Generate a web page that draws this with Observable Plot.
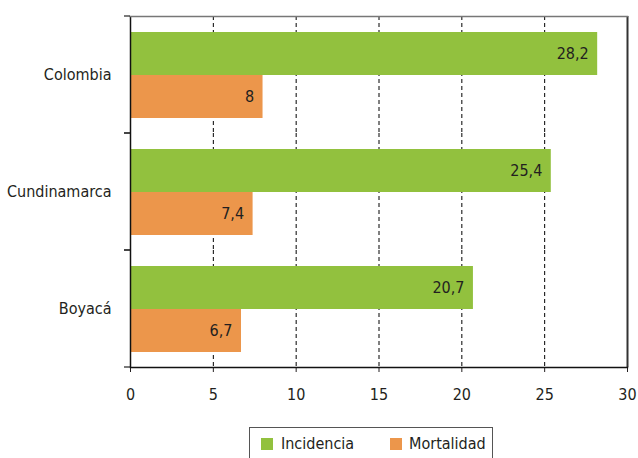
<!DOCTYPE html>
<html>
<head>
<meta charset="utf-8">
<script src="https://cdn.jsdelivr.net/npm/d3@7"></script>
<script src="https://cdn.jsdelivr.net/npm/@observablehq/plot@0.6"></script>
<style>
  body { margin: 0; background: #fff; font-family: "DejaVu Sans Condensed", "Liberation Sans", sans-serif; color: #231f20; }
  #chart { position: absolute; left: 0; top: 0; }
  #legend { position: absolute; left: 249px; top: 427px; width: 244px; height: 36px; border: 1px solid #555; box-sizing: border-box; font-size: 16px; }
  .sw { position: absolute; top: 10px; width: 12px; height: 12px; }
  .lb { position: absolute; top: 6px; line-height: 20px; }
</style>
</head>
<body>
<div id="chart"></div>
<div id="legend">
  <span class="sw" style="left:11px;background:#92c13e"></span><span class="lb" style="left:31px">Incidencia</span>
  <span class="sw" style="left:140px;background:#ec964b"></span><span class="lb" style="left:159px">Mortalidad</span>
</div>
<script>
const categories = ["Colombia", "Cundinamarca", "Boyacá"];
const series = ["Incidencia", "Mortalidad"];
const incidencia = [28.2, 25.4, 20.7];
const mortalidad = [8, 7.4, 6.7];
const xTicks = [0, 5, 10, 15, 20, 25, 30];
const colors = ["#92c13e", "#ec964b"];

const rows = [];
categories.forEach((c, i) => {
  rows.push({cat: c, serie: series[0], value: incidencia[i]});
  rows.push({cat: c, serie: series[1], value: mortalidad[i]});
});

const fmt = v => String(v).replace(".", ",");

const boundaryTicks = (index, scales, values, dims) => {
  const g = d3.create("svg:g").attr("stroke", "#222").attr("stroke-width", 1.2);
  const [y0, y1] = scales.y.range();
  const x0 = scales.x(0);
  for (const y of [y0, y1]) {
    g.append("line").attr("x1", x0 - 6).attr("x2", x0).attr("y1", y).attr("y2", y);
  }
  return g.node();
};

const plot = Plot.plot({
  width: 638,
  height: 410,
  marginLeft: 130,
  marginRight: 11,
  marginTop: 15,
  marginBottom: 42,
  style: {fontFamily: '"DejaVu Sans Condensed", "Liberation Sans", sans-serif', fontSize: "16px", color: "#231f20", background: "#fff"},
  x: {domain: [0, 30], ticks: xTicks, tickSize: 5, tickPadding: 16, label: null},
  y: {domain: series, axis: null, paddingInner: 0, paddingOuter: 0.36},
  fy: {domain: categories, padding: 0, axis: "left", label: null, tickSize: 0, tickPadding: 19},
  color: {domain: series, range: colors},
  marks: [
    Plot.gridX({ticks: [5, 10, 15, 20, 25], stroke: "#000", strokeOpacity: 1, strokeWidth: 1, strokeDasharray: "4,3"}),
    Plot.barX(rows, {x: "value", y: "serie", fy: "cat", fill: "serie"}),
    Plot.text(rows, {x: "value", y: "serie", fy: "cat", text: d => fmt(d.value), textAnchor: "end", dx: -9, fill: "#231f20", fontSize: 16}),
    Plot.ruleX([0], {stroke: "#111", strokeWidth: 1.5}),
    Plot.ruleX([30], {stroke: "#333", strokeWidth: 2}),
    Plot.frame({anchor: "top", facetAnchor: "top", stroke: "#777", strokeWidth: 1.5}),
    Plot.frame({anchor: "bottom", facetAnchor: "bottom", stroke: "#111", strokeWidth: 1.5}),
    boundaryTicks
  ]
});
document.getElementById("chart").appendChild(plot);
</script>
</body>
</html>
